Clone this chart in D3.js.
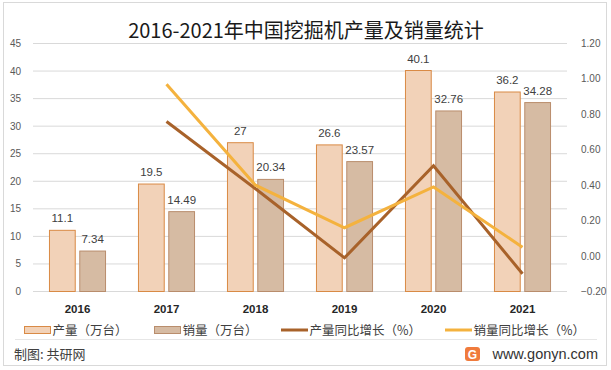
<!DOCTYPE html>
<html>
<head>
<meta charset="utf-8">
<script src="https://cdn.jsdelivr.net/npm/d3@7"></script>
<style>
  body { margin: 0; background: #fff; }
  svg { display: block; }
  .num { font-family: "Liberation Sans", Arial, sans-serif; }
  .cjk { font-family: "Noto Sans CJK SC", sans-serif; }
</style>
</head>
<body>
<svg id="chart" width="611" height="370"></svg>
<script>
const years = ['2016', '2017', '2018', '2019', '2020', '2021']
const output = [11.1, 19.5, 27, 26.6, 40.1, 36.2]          // 产量（万台）
const sales = [7.34, 14.49, 20.34, 23.57, 32.76, 34.28]     // 销量（万台）
const outputGrowth = [null, 0.76, 0.38, -0.01, 0.51, -0.10] // 产量同比增长
const salesGrowth = [null, 0.97, 0.40, 0.16, 0.39, 0.05]    // 销量同比增长
const leftTicks = [0, 5, 10, 15, 20, 25, 30, 35, 40, 45]
const rightTicks = [-0.2, 0, 0.2, 0.4, 0.6, 0.8, 1.0, 1.2]

const C = {
  outFill: '#F2D2B8', outStroke: '#D98A45',
  saleFill: '#D6BBA3', saleStroke: '#B98D6C',
  outLine: '#A8622A', saleLine: '#F4B23E',
  grid: '#D9D9D9', tick: '#595959', label: '#404040'
}

const svg = d3.select('#chart')
const plotL = 33, plotR = 567, plotT = 43.5, plotB = 291.5

// outer frame
svg.append('rect')
  .attr('x', 3.5).attr('y', 2.5).attr('width', 603).attr('height', 363)
  .attr('fill', '#fff').attr('stroke', '#D9D9D9')

const x0 = d3.scaleBand().domain(years).range([plotL, plotR])
  .paddingInner(0.37).paddingOuter(0.185)
const x1 = d3.scaleBand().domain(['output', 'sales']).range([0, x0.bandwidth()])
  .paddingInner(0.15)
const yL = d3.scaleLinear().domain([0, 45]).range([plotB, plotT])
const yR = d3.scaleLinear().domain([-0.2, 1.2]).range([plotB, plotT])

// grid
svg.append('g')
  .selectAll('line').data(leftTicks).join('line')
  .attr('x1', plotL).attr('x2', plotR)
  .attr('y1', d => yL(d)).attr('y2', d => yL(d))
  .attr('stroke', C.grid).attr('stroke-width', 1)

// left axis labels
svg.append('g').attr('class', 'num')
  .selectAll('text').data(leftTicks).join('text')
  .attr('x', 21).attr('y', d => yL(d) + 3.5)
  .attr('text-anchor', 'end').attr('font-size', 10).attr('fill', C.tick)
  .text(d => d)

// right axis labels
svg.append('g').attr('class', 'num')
  .selectAll('text').data(rightTicks).join('text')
  .attr('x', 581).attr('y', d => yR(d) + 3.5)
  .attr('font-size', 10).attr('fill', C.tick)
  .text(d => d3.format('.2f')(d))

// bars
const rows = years.map((y, i) => ({year: y, output: output[i], sales: sales[i]}))
const groups = svg.append('g').selectAll('g').data(rows).join('g')
  .attr('transform', d => `translate(${x0(d.year)},0)`)

groups.append('rect')
  .attr('x', x1('output')).attr('width', x1.bandwidth())
  .attr('y', d => yL(d.output)).attr('height', d => yL(0) - yL(d.output))
  .attr('fill', C.outFill).attr('stroke', C.outStroke).attr('stroke-width', 1)
groups.append('rect')
  .attr('x', x1('sales')).attr('width', x1.bandwidth())
  .attr('y', d => yL(d.sales)).attr('height', d => yL(0) - yL(d.sales))
  .attr('fill', C.saleFill).attr('stroke', C.saleStroke).attr('stroke-width', 1)

groups.append('text').attr('class', 'num')
  .attr('x', x1('output') + x1.bandwidth() / 2).attr('y', d => yL(d.output) - 8)
  .attr('text-anchor', 'middle').attr('font-size', 11.5).attr('fill', C.label)
  .text(d => d.output)
groups.append('text').attr('class', 'num')
  .attr('x', x1('sales') + x1.bandwidth() / 2).attr('y', d => yL(d.sales) - 8)
  .attr('text-anchor', 'middle').attr('font-size', 11.5).attr('fill', C.label)
  .text(d => d.sales)

// growth lines
const cx = y => x0(y) + x0.bandwidth() / 2
const line = d3.line()
  .defined(d => d[1] != null)
  .x(d => cx(d[0])).y(d => yR(d[1]))

svg.append('path')
  .datum(years.map((y, i) => [y, outputGrowth[i]]))
  .attr('d', line).attr('fill', 'none')
  .attr('stroke', C.outLine).attr('stroke-width', 3)
svg.append('path')
  .datum(years.map((y, i) => [y, salesGrowth[i]]))
  .attr('d', line).attr('fill', 'none')
  .attr('stroke', C.saleLine).attr('stroke-width', 3)

// year labels
svg.append('g').attr('class', 'num')
  .selectAll('text').data(years).join('text')
  .attr('x', d => cx(d)).attr('y', 313)
  .attr('text-anchor', 'middle').attr('font-size', 11.5).attr('font-weight', 'bold')
  .attr('fill', '#262626')
  .text(d => d)

// title
svg.append('text').attr('class', 'cjk')
  .attr('x', 306).attr('y', 38).attr('text-anchor', 'middle')
  .attr('font-size', 20).attr('fill', '#1a1a1a')
  .text('2016-2021年中国挖掘机产量及销量统计')

// legend
const legend = svg.append('g').attr('class', 'cjk')
const legendItems = [
  {label: '产量（万台）', type: 'rect', fill: C.outFill, stroke: C.outStroke, x: 24},
  {label: '销量（万台）', type: 'rect', fill: C.saleFill, stroke: C.saleStroke, x: 154},
  {label: '产量同比增长（%）', type: 'line', stroke: C.outLine, x: 281},
  {label: '销量同比增长（%）', type: 'line', stroke: C.saleLine, x: 445}
]
legendItems.forEach(it => {
  if (it.type === 'rect') {
    legend.append('rect').attr('x', it.x + 0.5).attr('y', 326.5)
      .attr('width', 26).attr('height', 7)
      .attr('fill', it.fill).attr('stroke', it.stroke)
  } else {
    legend.append('line').attr('x1', it.x).attr('x2', it.x + 27)
      .attr('y1', 330).attr('y2', 330)
      .attr('stroke', it.stroke).attr('stroke-width', 3)
  }
  legend.append('text').attr('x', it.x + 28.5).attr('y', 334.5)
    .attr('font-size', 12.5).attr('fill', C.label).text(it.label)
})

// footer
svg.append('line').attr('x1', 15).attr('x2', 597).attr('y1', 339.5).attr('y2', 339.5)
  .attr('stroke', '#E6E6E6')
svg.append('text').attr('class', 'cjk')
  .attr('x', 14).attr('y', 359).attr('font-size', 13).attr('fill', C.label)
  .text('制图: 共研网')

const logo = svg.append('g').attr('transform', 'translate(465,347)')
logo.append('rect').attr('width', 15).attr('height', 14).attr('rx', 3)
  .attr('fill', '#F07B3C')
logo.append('text').attr('class', 'num')
  .attr('x', 7.5).attr('y', 11.5).attr('text-anchor', 'middle')
  .attr('font-size', 12).attr('font-weight', 'bold').attr('fill', '#fff')
  .text('G')
svg.append('text').attr('class', 'num')
  .attr('x', 598).attr('y', 358.5).attr('text-anchor', 'end')
  .attr('font-size', 14.5).attr('fill', '#333')
  .text('www.gonyn.com')
</script>
</body>
</html>
